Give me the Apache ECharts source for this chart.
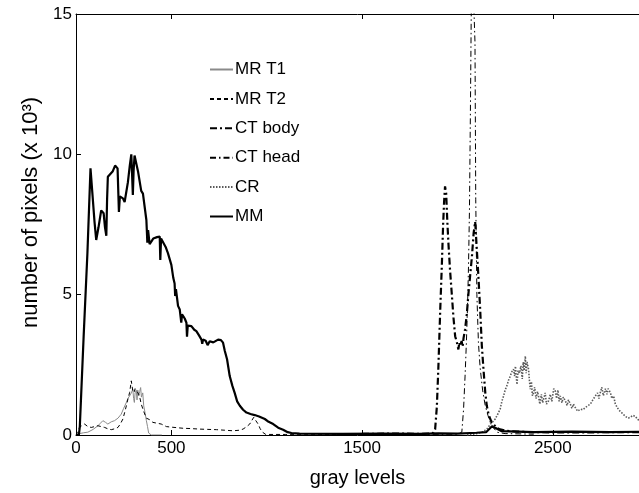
<!DOCTYPE html>
<html>
<head>
<meta charset="utf-8">
<script src="https://cdn.jsdelivr.net/npm/echarts@6/dist/echarts.min.js"></script>
<style>html,body{margin:0;padding:0;background:#fff;}#c{width:639px;height:493px;}</style>
</head>
<body>
<div id="c"></div>
<script>
const xTicks = [0, 500, 1500, 2500];
const yTicks = [0, 5, 10, 15];
const seriesNames = ['MR T1', 'MR T2', 'CT body', 'CT head', 'CR', 'MM'];

const mrT1 = [[0,0],[18,0.05],[40,0.08],[62,0.1],[90,0.2],[115,0.33],[128,0.42],[141,0.51],[155,0.45],[167,0.39],[185,0.47],[202,0.51],[220,0.6],[237,0.74],[250,0.95],[264,1.16],[272,1.3],[281,1.39],[290,1.5],[298,1.63],[302,1.3],[306,1.16],[310,1.5],[316,1.6],[320,1.25],[324,1.6],[328,1.39],[334,1.55],[339,1.69],[343,1.35],[346,1.28],[350,1.5],[355,1.04],[362,0.8],[369,0.51],[375,0.3],[381,0.07],[395,0],[450,0]];

const mrT2 = [[0,0],[10,0.1],[18,0.27],[30,0.33],[45,0.39],[62,0.3],[80,0.27],[98,0.3],[115,0.33],[132,0.3],[150,0.27],[167,0.22],[185,0.19],[202,0.22],[220,0.27],[233,0.4],[246,0.57],[255,0.8],[264,1.04],[273,1.3],[281,1.51],[290,1.93],[297,1.6],[304,1.51],[310,1.65],[316,1.6],[325,1.5],[333,1.39],[342,1.1],[351,0.92],[360,0.75],[369,0.6],[385,0.55],[403,0.45],[425,0.42],[447,0.39],[474,0.3],[500,0.28],[530,0.26],[561,0.24],[600,0.23],[649,0.21],[690,0.2],[736,0.19],[780,0.17],[824,0.15],[855,0.17],[876,0.21],[895,0.3],[911,0.39],[922,0.52],[932,0.63],[944,0.5],[955,0.39],[966,0.22],[978,0.1],[995,0.02],[1100,0.02],[1200,0.03],[1400,0.02],[1600,0.03],[1800,0.02]];

const ctBody = [[1500,0.04],[1700,0.05],[1800,0.04],[1860,0.05],[1874,0.08],[1883,0.2],[1892,1.0],[1900,2.4],[1910,4.5],[1918,6.0],[1925,7.5],[1930,8.3],[1935,8.86],[1941,8.6],[1947,7.6],[1953,6.8],[1961,5.9],[1970,5.06],[1979,4.2],[1988,3.52],[1997,3.3],[2005,3.05],[2010,3.3],[2014,3.17],[2022,3.35],[2027,3.15],[2032,3.45],[2040,3.76],[2049,4.3],[2058,5.06],[2067,5.7],[2076,6.36],[2085,7.2],[2093,7.6],[2100,6.8],[2110,5.65],[2119,4.5],[2128,3.17],[2137,2.3],[2146,1.51],[2154,1.04],[2163,0.75],[2172,0.57],[2180,0.45],[2190,0.38],[2207,0.25],[2224,0.2],[2260,0.15],[2312,0.12],[2400,0.1],[2600,0.09],[2800,0.1],[3000,0.1]];

const ctHead = [[1800,0.02],[2000,0.03],[2023,0.1],[2032,0.9],[2040,2.1],[2047,3.3],[2053,4.6],[2058,6.0],[2063,8.0],[2068,11.5],[2073,15.5],[2080,16.5],[2087,16.5],[2092,14],[2096,8.4],[2102,5.0],[2110,3.3],[2119,2.4],[2132,1.6],[2146,1.04],[2160,0.7],[2172,0.45],[2190,0.25],[2207,0.1],[2250,0.05],[2400,0.03]];

const cr = [[2050,0],[2100,0.05],[2130,0.1],[2154,0.21],[2175,0.4],[2198,0.57],[2212,0.75],[2224,0.92],[2233,1.2],[2242,1.39],[2250,1.6],[2259,1.75],[2268,1.95],[2277,2.1],[2285,2.25],[2294,2.34],[2300,2.1],[2304,2.45],[2308,2.52],[2312,1.8],[2318,2.3],[2325,2.2],[2333,2.46],[2340,2.0],[2345,2.6],[2350,2.3],[2356,2.81],[2360,2.2],[2365,2.6],[2373,2.34],[2378,1.9],[2382,1.63],[2388,1.9],[2393,1.4],[2399,1.51],[2405,1.7],[2412,1.3],[2420,1.55],[2425,1.39],[2432,1.1],[2440,1.45],[2447,1.15],[2452,1.28],[2460,1.5],[2467,1.1],[2478,1.22],[2487,1.45],[2495,1.2],[2505,1.65],[2513,1.57],[2520,1.3],[2527,1.6],[2533,1.2],[2539,1.39],[2548,1.15],[2555,1.35],[2566,1.22],[2575,1.05],[2582,1.25],[2592,1.1],[2600,0.95],[2608,1.1],[2618,0.98],[2630,0.85],[2645,0.92],[2658,0.9],[2671,0.98],[2685,1.05],[2697,1.1],[2710,1.25],[2723,1.39],[2735,1.5],[2742,1.3],[2749,1.51],[2757,1.7],[2765,1.4],[2776,1.65],[2784,1.45],[2790,1.65],[2802,1.51],[2810,1.3],[2819,1.39],[2828,1.1],[2837,1.04],[2845,0.9],[2855,0.86],[2868,0.75],[2881,0.66],[2895,0.6],[2907,0.63],[2920,0.7],[2933,0.66],[2945,0.55],[2954,0.57],[2975,0.5],[3000,0.5]];

const mm = [[0,0],[15,0],[20,0.3],[40,3.5],[60,6.5],[76,9.5],[86,8.6],[97,7.6],[106,6.95],[118,7.4],[132,8.0],[145,7.9],[152,7.4],[159,7.1],[163,8.4],[167,9.2],[180,9.3],[193,9.4],[205,9.6],[211,9.67],[218,9.5],[225,7.95],[230,8.5],[246,8.43],[255,8.3],[264,8.25],[272,9.0],[282,9.6],[290,10.0],[294,9.3],[298,8.55],[302,9.4],[307,9.96],[315,9.9],[325,9.4],[342,8.7],[351,8.6],[360,8.55],[369,7.66],[372,7.2],[374,6.85],[378,7.3],[386,6.8],[395,6.77],[405,7.0],[412,6.95],[425,7.05],[439,7.07],[442,6.24],[446,7.0],[456,7.0],[470,6.7],[482,6.48],[500,6.06],[510,5.6],[517,5.4],[520,4.95],[524,5.2],[535,4.6],[544,4.47],[552,4.0],[556,4.3],[561,4.29],[570,4.15],[579,4.0],[582,3.5],[586,3.9],[605,3.88],[620,3.75],[631,3.7],[645,3.55],[658,3.4],[662,3.25],[666,3.4],[680,3.36],[690,3.2],[701,3.34],[720,3.3],[745,3.4],[760,3.38],[771,3.29],[780,3.0],[792,2.7],[806,2.1],[820,1.75],[832,1.5],[845,1.2],[859,1.04],[876,0.9],[894,0.8],[915,0.75],[937,0.71],[960,0.66],[990,0.57],[1010,0.47],[1034,0.39],[1060,0.26],[1086,0.19],[1110,0.1],[1130,0.07],[1172,0.05],[1400,0.04],[1600,0.05],[1800,0.04],[1900,0.06],[2000,0.05],[2100,0.08],[2150,0.1],[2180,0.3],[2200,0.25],[2230,0.14],[2400,0.1],[2600,0.12],[2800,0.1],[3000,0.12]];

const FONT = 'Liberation Sans, Arial, Helvetica, sans-serif';
const chart = echarts.init(document.getElementById('c'), null, {renderer: 'canvas'});

function mk(name, data, color, width, type) {
  return {
    name: name, type: 'line', data: data, xAxisIndex: 0, yAxisIndex: 0,
    showSymbol: false, symbol: 'none', clip: true, silent: true,
    lineStyle: {color: color, width: width, type: type},
    itemStyle: {color: color}
  };
}

chart.setOption({
  animation: false,
  backgroundColor: '#fff',
  textStyle: {fontFamily: FONT},
  grid: {left: 76, top: 14, bottom: 57, right: 0, containLabel: false},
  legend: {
    orient: 'vertical', left: 209, top: 61, padding: 0,
    itemWidth: 23, itemHeight: 14, itemGap: 12.4,
    itemStyle: {opacity: 0},
    textStyle: {fontSize: 17, color: '#000', fontFamily: FONT, padding: [0,0,0,-3]},
    data: seriesNames
  },
  xAxis: [{
    type: 'value', min: 0, max: 2952, position: 'bottom',
    axisLine: {show: true, onZero: false, lineStyle: {color: '#000', width: 1}},
    axisTick: {show: true, inside: true, length: 5, customValues: xTicks, lineStyle: {color: '#000'}},
    axisLabel: {show: true, customValues: xTicks, fontSize: 17, color: '#000', margin: 5, fontFamily: FONT,
      formatter: function (v) { return String(v); }},
    splitLine: {show: false},
    name: 'gray levels', nameLocation: 'middle', nameGap: 33,
    nameTextStyle: {fontSize: 20, color: '#000', fontFamily: FONT}
  }, {
    type: 'value', min: 0, max: 2952, position: 'top',
    axisLine: {show: true, onZero: false, lineStyle: {color: '#000', width: 1}},
    axisTick: {show: true, inside: true, length: 5, customValues: xTicks, lineStyle: {color: '#000'}},
    axisLabel: {show: false},
    splitLine: {show: false}
  }],
  yAxis: [{
    type: 'value', min: 0, max: 15, interval: 5,
    axisLine: {show: true, onZero: false, lineStyle: {color: '#000', width: 1}},
    axisTick: {show: true, inside: true, length: 5, lineStyle: {color: '#000'}},
    axisLabel: {show: true, fontSize: 17, color: '#000', margin: 4, fontFamily: FONT},
    splitLine: {show: false},
    name: 'number of pixels (x 10³)', nameLocation: 'middle', nameGap: 33, nameRotate: 90,
    nameTextStyle: {fontSize: 22, color: '#000', fontFamily: FONT, padding: [0, 0, 0, 24]}
  }],
  series: [
    mk(seriesNames[0], mrT1, '#8a8a8a', 1, 'solid'),
    mk(seriesNames[1], mrT2, '#000', 1, [4, 3]),
    mk(seriesNames[2], ctBody, '#000', 2.2, [7, 3, 2, 3]),
    mk(seriesNames[3], ctHead, '#000', 1, [6, 3, 1.5, 3]),
    mk(seriesNames[4], cr, '#5a5a5a', 1.6, [1.5, 1.5]),
    mk(seriesNames[5], mm, '#000', 2.2, 'solid')
  ]
});
</script>
</body>
</html>
